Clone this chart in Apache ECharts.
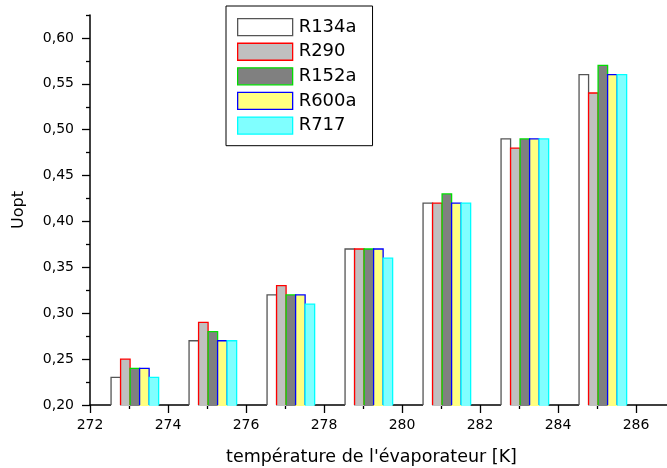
<!DOCTYPE html>
<html>
<head>
<meta charset="utf-8">
<script src="https://cdn.jsdelivr.net/npm/echarts@6/dist/echarts.min.js"></script>
<style>html,body{margin:0;padding:0;background:#fff;}#c{width:667px;height:468px;}</style>
</head>
<body>
<div id="c"></div>
<script>
// ---- data ----
const categories = [273, 275, 277, 279, 281, 283, 285];
const seriesNames = ['R134a', 'R290', 'R152a', 'R600a', 'R717'];
const R134a = [0.23, 0.27, 0.32, 0.37, 0.42, 0.49, 0.56];
const R290  = [0.25, 0.29, 0.33, 0.37, 0.42, 0.48, 0.54];
const R152a = [0.24, 0.28, 0.32, 0.37, 0.43, 0.49, 0.57];
const R600a = [0.24, 0.27, 0.32, 0.37, 0.42, 0.49, 0.56];
const R717  = [0.23, 0.27, 0.31, 0.36, 0.42, 0.49, 0.56];
const xTicks = [272, 274, 276, 278, 280, 282, 284, 286];
const xMinorTicks = [273, 275, 277, 279, 281, 283, 285];
const yTicks = [0.20, 0.25, 0.30, 0.35, 0.40, 0.45, 0.50, 0.55, 0.60];
const yMinorTicks = [0.225, 0.275, 0.325, 0.375, 0.425, 0.475, 0.525, 0.575, 0.625];

// ---- styles ----
const fills   = ['#ffffff', '#c0c0c0', '#808080', '#ffff80', '#80ffff'];
const borders = ['#555555', '#ff0000', '#00dd00', '#0000ff', '#00ffff'];
const X_MIN = 272, X_MAX = 287, Y_MIN = 0.2, Y_MAX = 0.625;
const BAR_OFFSET = -0.46, BAR_W = 0.244;
const FONT = 'DejaVu Sans';

const values = [R134a, R290, R152a, R600a, R717];

function makeRender(k) {
  return function (params, api) {
    const x = api.value(0), v = api.value(1);
    const p0 = api.coord([x + BAR_OFFSET + k * BAR_W, v]);
    const p1 = api.coord([x + BAR_OFFSET + (k + 1) * BAR_W, Y_MIN]);
    return {
      type: 'group',
      children: [{
        type: 'rect',
        shape: { x: p0[0], y: p0[1], width: p1[0] - p0[0], height: p1[1] - p0[1] + 1 },
        style: { fill: fills[k] }
      }, {
        type: 'polyline',
        shape: { points: [[p0[0], p1[1]], [p0[0], p0[1]], [p1[0], p0[1]], [p1[0], p1[1]]] },
        style: { fill: null, stroke: borders[k], lineWidth: 1.3 }
      }]
    };
  };
}

const series = seriesNames.map((name, k) => ({
  name: name,
  type: 'custom',
  xAxisIndex: 0,
  yAxisIndex: 0,
  itemStyle: { color: fills[k], borderColor: borders[k], borderWidth: 1.3 },
  renderItem: makeRender(k),
  encode: { x: 0, y: 1 },
  data: categories.map((c, i) => [c, values[k][i]])
}));

const chart = echarts.init(document.getElementById('c'), null, { renderer: 'canvas' });
chart.setOption({
  backgroundColor: '#fff',
  animation: false,
  textStyle: { fontFamily: FONT, color: '#000' },
  grid: { left: 90, top: 15, width: 585, height: 390, outerBoundsMode: 'none', containLabel: false },
  legend: {
    left: 226, top: 6,
    orient: 'vertical',
    padding: [12, 16, 11, 11],
    borderColor: '#000', borderWidth: 1,
    itemWidth: 55, itemHeight: 17, itemGap: 6.3,
    icon: 'rect',
    textStyle: { fontFamily: FONT, fontSize: 18, color: '#000', padding: [0, 0, 0, 1] },
    data: seriesNames.map((n, k) => ({
      name: n,
      itemStyle: { color: fills[k], borderColor: borders[k], borderWidth: 1.3 }
    }))
  },
  xAxis: [{
    type: 'value', min: X_MIN, max: X_MAX, position: 'bottom',
    splitLine: { show: false },
    axisLine: { show: true, lineStyle: { color: '#000', width: 1.5 } },
    axisTick: { show: true, customValues: xTicks, length: 8, lineStyle: { color: '#000', width: 1.3 } },
    axisLabel: { customValues: xTicks, margin: 13, fontSize: 14, color: '#000', fontFamily: FONT },
    name: "température de l'évaporateur [K]",
    nameLocation: 'middle', nameGap: 43,
    nameTextStyle: { fontSize: 17.5, color: '#000', fontFamily: FONT, padding: [0, 22, 0, 0] }
  }, {
    type: 'value', min: X_MIN, max: X_MAX, position: 'bottom',
    splitLine: { show: false },
    axisLine: { show: false },
    axisTick: { show: true, customValues: xMinorTicks, length: 4, lineStyle: { color: '#000', width: 1.3 } },
    axisLabel: { show: false }
  }],
  yAxis: [{
    type: 'value', min: Y_MIN, max: Y_MAX, position: 'left',
    splitLine: { show: false },
    axisLine: { show: true, lineStyle: { color: '#000', width: 1.5 } },
    axisTick: { show: true, customValues: yTicks, length: 8, lineStyle: { color: '#000', width: 1.3 } },
    axisLabel: {
      customValues: yTicks, margin: 16, fontSize: 14, color: '#000', fontFamily: FONT,
      formatter: v => v.toFixed(2).replace('.', ',')
    },
    name: 'Uopt', nameLocation: 'middle', nameGap: 63, nameRotate: 90,
    nameTextStyle: { fontSize: 16, color: '#000', fontFamily: FONT }
  }, {
    type: 'value', min: Y_MIN, max: Y_MAX, position: 'left',
    splitLine: { show: false },
    axisLine: { show: false },
    axisTick: { show: true, customValues: yMinorTicks, length: 4, lineStyle: { color: '#000', width: 1.3 } },
    axisLabel: { show: false }
  }],
  series: series
});
</script>
</body>
</html>
